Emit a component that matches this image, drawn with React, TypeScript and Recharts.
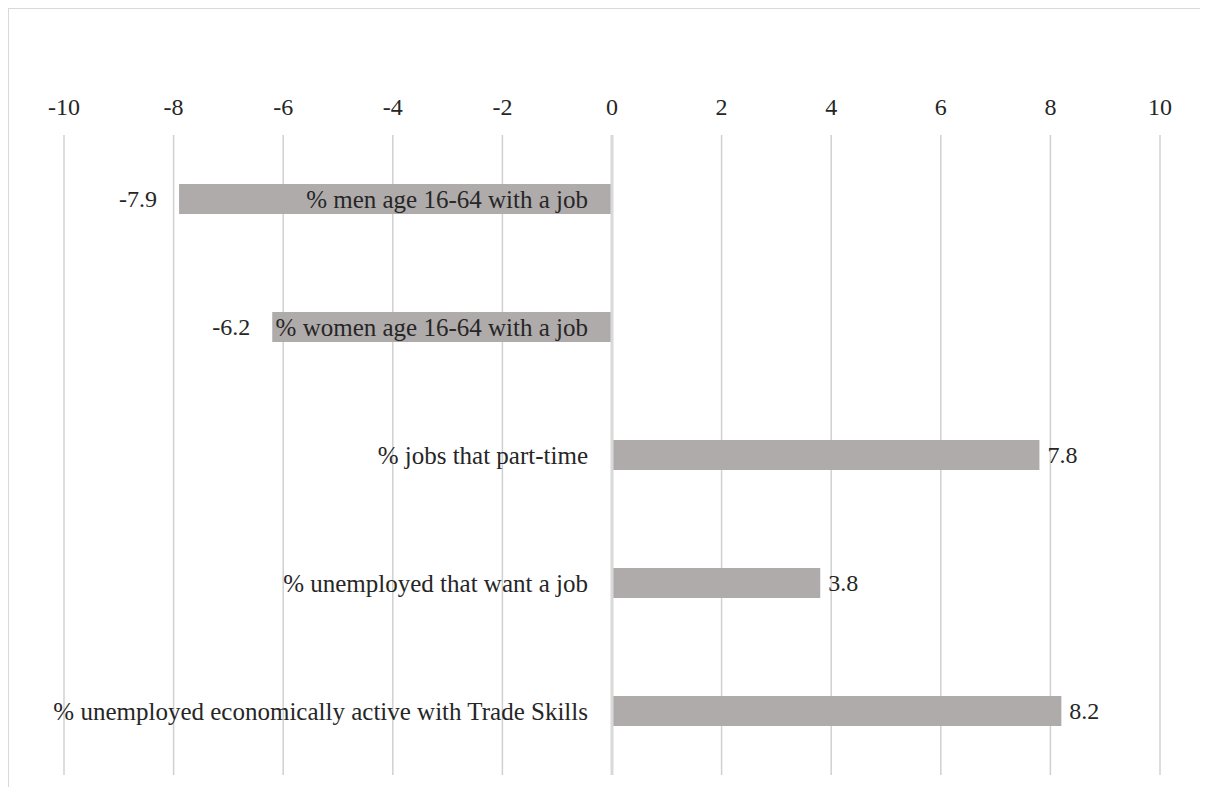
import React from "react";
import {
  BarChart,
  Bar,
  XAxis,
  YAxis,
  CartesianGrid,
  ReferenceLine,
  LabelList,
} from "recharts";

const categories = [
  "% men age 16-64 with a job",
  "% women age 16-64 with a job",
  "% jobs that part-time",
  "% unemployed that want a job",
  "% unemployed economically active with Trade Skills",
];

const changes = [-7.9, -6.2, 7.8, 3.8, 8.2];

const xTicks = [-10, -8, -6, -4, -2, 0, 2, 4, 6, 8, 10];

const data = categories.map((name, i) => ({ name, value: changes[i] }));

const FONT = "Liberation Serif, DejaVu Serif, serif";
const TEXT = "#262626";
const NUM_SIZE = 24;
const CAT_SIZE = 25;

// bar edges, whatever sign the width comes back with
function edges(x: number, width: number) {
  return { left: Math.min(x, x + width), right: Math.max(x, x + width) };
}

function CategoryLabel(props: any) {
  const { x, y, width, height, index } = props;
  const { left, right } = edges(Number(x), Number(width));
  const zero = changes[index] < 0 ? right : left;
  return (
    <text
      x={zero - 24}
      y={Number(y) + Number(height) / 2}
      textAnchor="end"
      dominantBaseline="central"
      style={{ fontFamily: FONT, fontSize: CAT_SIZE }}
      fill={TEXT}
    >
      {categories[index]}
    </text>
  );
}

function ValueLabel(props: any) {
  const { x, y, width, height, index } = props;
  const v = changes[index];
  const { left, right } = edges(Number(x), Number(width));
  const neg = v < 0;
  return (
    <text
      x={neg ? left - 22 : right + 8}
      y={Number(y) + Number(height) / 2}
      textAnchor={neg ? "end" : "start"}
      dominantBaseline="central"
      style={{ fontFamily: FONT, fontSize: NUM_SIZE }}
      fill={TEXT}
    >
      {v}
    </text>
  );
}

export default function App() {
  return (
    <div
      style={{
        width: 1199,
        height: 778,
        borderTop: "1px solid #d9d9d9",
        borderLeft: "1px solid #d9d9d9",
        background: "#fff",
        fontFamily: FONT,
      }}
    >
      <BarChart
        width={1199}
        height={778}
        data={data}
        layout="vertical"
        margin={{ top: 96, right: 48, bottom: 12, left: 55 }}
        barCategoryGap={0}
        style={{ fontFamily: FONT }}
      >
        <CartesianGrid horizontal={false} stroke="#d0d0d0" strokeWidth={1.5} />
        <XAxis
          type="number"
          orientation="top"
          domain={[-10, 10]}
          ticks={xTicks}
          height={30}
          axisLine={false}
          tickLine={false}
          tickMargin={14}
          interval={0}
          tick={{ fontSize: NUM_SIZE, fill: TEXT, style: { fontFamily: FONT } }}
        />
        <YAxis type="category" dataKey="name" hide />
        <ReferenceLine x={0} stroke="#d9d9d9" strokeWidth={3} />
        <Bar dataKey="value" fill="#afabab" barSize={30} isAnimationActive={false}>
          <LabelList dataKey="name" content={CategoryLabel} />
          <LabelList dataKey="value" content={ValueLabel} />
        </Bar>
      </BarChart>
    </div>
  );
}
